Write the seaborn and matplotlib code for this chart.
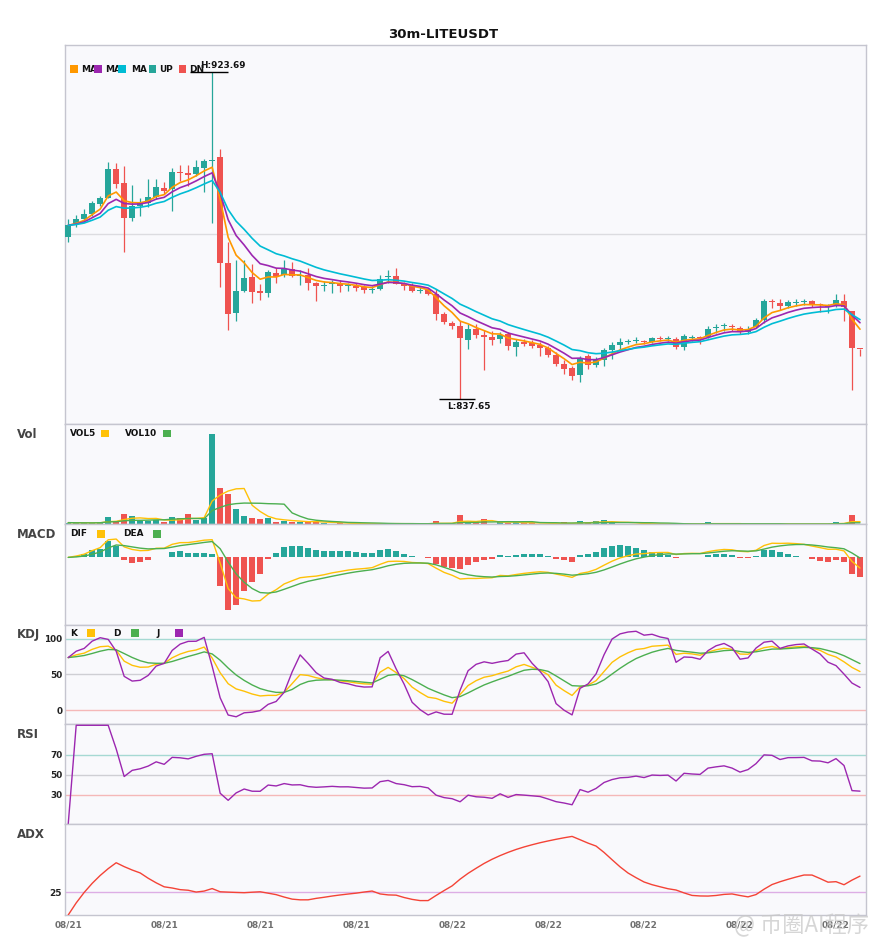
import numpy as np
import pandas as pd
import matplotlib
matplotlib.use("Agg")
import matplotlib.pyplot as plt
from matplotlib.patches import Rectangle
import seaborn as sns

# ---------------- data ----------------
title = "30m-LITEUSDT"

opens = [
    880.22, 883.75, 884.89, 886.20, 888.84, 890.60, 898.06, 894.45, 885.23, 888.31,
    889.29, 890.76, 893.05, 892.97, 897.30, 897.00, 896.82, 898.40, 900.24, 901.30,
    873.29, 860.20, 866.00, 869.69, 865.70, 865.47, 870.66, 870.21, 871.71, 870.00,
    870.21, 868.03, 867.31, 867.80, 867.84, 867.30, 867.42, 866.97, 866.30, 866.45,
    869.70, 869.87, 867.95, 867.24, 865.95, 866.18, 865.31, 859.86, 857.57, 856.70,
    853.19, 855.91, 854.41, 853.98, 853.35, 854.67, 851.25, 852.67, 852.30, 851.88,
    850.98, 849.06, 846.69, 845.63, 843.79, 848.80, 846.50, 847.74, 850.38, 851.69,
    852.55, 852.75, 852.93, 852.56, 853.50, 853.40, 853.46, 851.25, 853.70, 853.75,
    853.98, 856.36, 856.70, 856.50, 856.25, 855.30, 856.51, 858.46, 863.30, 862.76,
    862.15, 862.95, 863.05, 863.47, 862.35, 861.75, 862.23, 863.28, 860.65, 850.70,
]
highs = [
    884.89, 885.94, 887.52, 889.63, 890.95, 899.90, 899.64, 898.93, 893.84, 890.42,
    895.42, 895.42, 894.63, 898.40, 899.11, 899.11, 900.43, 900.69, 923.69, 903.33,
    878.91, 874.09, 874.09, 873.03, 867.76, 871.45, 871.98, 874.27, 873.56, 871.45,
    872.16, 868.37, 868.55, 869.00, 869.00, 868.21, 868.21, 867.68, 867.42, 870.13,
    871.45, 871.98, 868.29, 868.21, 867.05, 866.89, 866.45, 860.47, 858.09, 858.02,
    857.41, 857.41, 855.83, 855.46, 855.12, 855.12, 853.35, 853.35, 853.01, 852.48,
    851.61, 849.85, 847.74, 846.24, 848.98, 849.32, 848.61, 851.09, 852.48, 853.62,
    853.35, 853.88, 853.19, 853.88, 854.06, 854.06, 853.88, 854.78, 854.41, 854.14,
    856.70, 857.23, 857.67, 857.31, 856.78, 856.70, 858.88, 863.81, 863.89, 863.89,
    863.73, 863.89, 863.99, 863.55, 862.94, 862.68, 865.13, 865.13, 860.73, 850.82,
]
lows = [
    878.91, 882.78, 884.10, 885.68, 888.31, 890.42, 893.05, 876.27, 884.44, 885.68,
    888.13, 890.16, 891.47, 887.07, 894.90, 893.58, 896.21, 892.00, 883.91, 867.05,
    855.83, 858.09, 865.80, 862.84, 863.55, 864.42, 868.11, 869.69, 869.69, 867.58,
    866.37, 863.36, 866.10, 865.58, 865.84, 866.00, 865.92, 865.47, 865.47, 866.30,
    868.21, 867.76, 866.37, 865.84, 865.58, 864.87, 858.28, 857.23, 856.09, 837.65,
    850.64, 853.62, 845.11, 851.88, 852.30, 850.38, 848.80, 851.43, 851.09, 848.87,
    848.61, 846.16, 844.05, 842.66, 842.02, 845.55, 845.98, 846.35, 848.19, 850.56,
    851.96, 852.30, 852.14, 852.30, 852.83, 852.75, 850.64, 850.56, 852.93, 852.04,
    853.72, 854.93, 855.57, 855.38, 854.59, 854.78, 856.25, 857.57, 861.44, 860.91,
    861.62, 862.04, 862.31, 861.78, 860.57, 860.31, 861.78, 858.09, 839.84, 848.80,
]
closes = [
    883.31, 884.89, 886.20, 889.18, 890.50, 898.06, 894.11, 885.23, 888.31, 889.18,
    890.68, 893.32, 892.34, 897.27, 897.10, 896.70, 898.59, 900.17, 900.61, 873.37,
    860.04, 866.00, 869.42, 865.73, 865.60, 870.92, 869.69, 871.71, 870.05, 870.20,
    868.11, 867.31, 867.58, 867.90, 867.42, 867.45, 866.89, 866.37, 866.45, 869.26,
    869.85, 867.95, 867.24, 866.00, 866.10, 865.21, 860.04, 857.83, 856.78, 853.54,
    855.91, 854.41, 853.98, 853.01, 854.51, 851.51, 852.48, 852.04, 851.51, 850.98,
    849.06, 846.69, 845.37, 843.53, 848.45, 846.50, 847.93, 850.38, 851.69, 852.48,
    852.67, 853.19, 852.56, 853.54, 853.40, 853.50, 851.25, 854.06, 853.80, 853.65,
    856.09, 856.62, 857.04, 856.40, 855.20, 856.09, 858.46, 863.28, 863.15, 861.97,
    863.02, 863.05, 863.15, 862.31, 862.25, 861.85, 863.55, 861.89, 850.98, 850.60,
]
volumes = [
    500, 400, 400, 400, 600, 2100, 1000, 3000, 2400, 1100,
    1100, 1200, 700, 2100, 1800, 3000, 1200, 1900, 27000, 10800,
    9000, 4500, 2400, 1800, 1500, 1800, 700, 900, 700, 700,
    900, 800, 300, 200, 300, 200, 200, 200, 150, 200,
    150, 300, 150, 150, 100, 150, 900, 200, 200, 2800,
    600, 400, 1500, 200, 600, 500, 600, 400, 300, 200,
    200, 200, 600, 200, 900, 400, 900, 1200, 500, 200,
    200, 200, 100, 100, 100, 100, 100, 100, 100, 100,
    600, 100, 100, 100, 100, 100, 100, 100, 100, 100,
    100, 100, 100, 100, 100, 100, 600, 400, 2700, 200,
]
tick_pos = [0, 12, 24, 36, 48, 60, 72, 84, 96]
tick_labels = ["08/21", "08/21", "08/21", "08/21", "08/22", "08/22", "08/22", "08/22", "08/22"]

# ---------------- style ----------------
sns.set_theme(style="white")
plt.rcParams['font.family'] = ['DejaVu Sans', 'Noto Sans CJK SC']

C_UP, C_DN = '#26a69a', '#ef5350'
C_MA1, C_MA2, C_MA3 = '#ff9800', '#9c27b0', '#00bcd4'
C_Y, C_G, C_P = '#ffc107', '#4caf50', '#9c27b0'
C_ADX = '#f44336'
FACE = '#f9f9fc'
SPINE = '#c5c5cf'

df = pd.DataFrame(dict(open=opens, high=highs, low=lows, close=closes, volume=volumes))
df['idx'] = np.arange(len(df))
is_up = df['close'] >= df['open']
colors = np.where(is_up, C_UP, C_DN)

# indicators (exponential moving averages 5 / 8 / 13)
ma1 = df['close'].ewm(span=5, adjust=False).mean()
ma2 = df['close'].ewm(span=8, adjust=False).mean()
ma3 = df['close'].ewm(span=13, adjust=False).mean()
vol5 = df['volume'].rolling(5, min_periods=1).mean()
vol10 = df['volume'].rolling(10, min_periods=1).mean()

ema_f = df['close'].ewm(span=6, adjust=False).mean()
ema_s = df['close'].ewm(span=13, adjust=False).mean()
dif = ema_f - ema_s
dea = dif.ewm(span=5, adjust=False).mean()
hist = 2 * (dif - dea)

low9 = df['low'].rolling(9, min_periods=1).min()
high9 = df['high'].rolling(9, min_periods=1).max()
rsv = (df['close'] - low9) / (high9 - low9) * 100
k_line = rsv.ewm(com=2, adjust=False).mean()
d_line = k_line.ewm(com=2, adjust=False).mean()
j_line = 3 * k_line - 2 * d_line

chg = df['close'].diff()
gain = chg.clip(lower=0).ewm(alpha=1 / 14, adjust=True).mean()
loss = (-chg).clip(lower=0).ewm(alpha=1 / 14, adjust=True).mean()
rsi = (100 * gain / (gain + loss)).fillna(0)

prev_c = df['close'].shift()
tr = pd.concat([df['high'] - df['low'], (df['high'] - prev_c).abs(), (df['low'] - prev_c).abs()], axis=1).max(axis=1)
upm = df['high'].diff()
dnm = -df['low'].diff()
pdm = pd.Series(np.where((upm > dnm) & (upm > 0), upm, 0.0))
ndm = pd.Series(np.where((dnm > upm) & (dnm > 0), dnm, 0.0))
atr = tr.ewm(span=14, adjust=False).mean()
pdi = 100 * pdm.ewm(span=14, adjust=False).mean() / atr
ndi = 100 * ndm.ewm(span=14, adjust=False).mean() / atr
dx = (100 * (pdi - ndi).abs() / (pdi + ndi)).fillna(0)
adx = dx.ewm(span=14, adjust=False).mean()

# ---------------- layout ----------------
W, H = 885, 950
fig = plt.figure(figsize=(W / 100, H / 100), dpi=100)
fig.patch.set_facecolor('white')


def axes_px(top, bottom):
    return fig.add_axes([65 / W, 1 - bottom / H, 801 / W, (bottom - top) / H])


ax_p = axes_px(44.5, 424.3)
ax_v = axes_px(424.3, 524.3)
ax_m = axes_px(524.3, 624.5)
ax_k = axes_px(624.5, 724.3)
ax_r = axes_px(724.3, 824.3)
ax_a = axes_px(824.3, 915.0)
axes = [ax_p, ax_v, ax_m, ax_k, ax_r, ax_a]

for ax in axes:
    ax.set_facecolor(FACE)
    for s in ax.spines.values():
        s.set_color(SPINE)
        s.set_linewidth(1.0)
    ax.set_xlim(-0.4, 99.75)
    ax.set_xticks(tick_pos)
    ax.set_xticklabels([])
    ax.tick_params(axis='both', length=0, pad=2)

# ---- price ----
ax_p.vlines(df['idx'], df['low'], df['high'], colors=colors, lw=0.9, zorder=2)
body_lo = np.minimum(df['open'], df['close'])
body_h = np.maximum((df['close'] - df['open']).abs(), 0.28)
ax_p.bar(df['idx'], body_h, bottom=body_lo, width=0.75, color=colors, zorder=3, linewidth=0)
for series, col in [(ma1, C_MA1), (ma2, C_MA2), (ma3, C_MA3)]:
    sns.lineplot(x=df['idx'], y=series, ax=ax_p, color=col, lw=1.2, zorder=4)
lo, hi = df['low'].min(), df['high'].max()
rng = hi - lo
ax_p.set_ylim(lo - 0.079 * rng, hi + 0.085 * rng)
ax_p.set_yticks([881])
ax_p.set_yticklabels([])
ax_p.tick_params(axis='y', length=3, color='#bbbbbb')
ax_p.yaxis.grid(True, color='#dcdce0', lw=1)

ih = int(df['high'].idxmax())
il = int(df['low'].idxmin())
ax_p.hlines(hi, ih - 2.75, ih + 2, color='black', lw=1, zorder=5)
ax_p.annotate(f"H:{hi:.2f}", (ih - 1.5, hi), xytext=(0, 1.5), textcoords='offset points',
              ha='left', va='bottom', fontsize=6.4, fontweight='bold', color='#111111', zorder=6)
ax_p.hlines(lo, il - 2.6, il + 1.9, color='black', lw=1, zorder=5)
ax_p.annotate(f"L:{lo:.2f}", (il - 1.6, lo), xytext=(0, -2.5), textcoords='offset points',
              ha='left', va='top', fontsize=6.4, fontweight='bold', color='#111111', zorder=6)

# ---- volume ----
ax_v.bar(df['idx'], df['volume'], width=0.75, color=colors, linewidth=0, zorder=2)
sns.lineplot(x=df['idx'], y=vol5, ax=ax_v, color=C_Y, lw=1.0, zorder=3)
sns.lineplot(x=df['idx'], y=vol10, ax=ax_v, color=C_G, lw=1.0, zorder=3)
ax_v.set_ylim(0, df['volume'].max() / 0.9)
ax_v.set_yticks([])

# ---- MACD ----
hcol = np.where(hist >= 0, C_UP, C_DN)
ax_m.bar(df['idx'], hist, width=0.75, color=hcol, linewidth=0, zorder=2)
sns.lineplot(x=df['idx'], y=dif, ax=ax_m, color=C_Y, lw=1.0, zorder=3)
sns.lineplot(x=df['idx'], y=dea, ax=ax_m, color=C_G, lw=1.0, zorder=3)
mlo = min(hist.min(), dif.min(), dea.min())
ax_m.set_ylim(mlo * 1.264, -mlo * 0.623)
ax_m.set_yticks([])

# ---- KDJ ----
ax_k.axhline(100, color='#a6d9d3', lw=1, zorder=1)
ax_k.axhline(50, color='#cfcfd4', lw=1, zorder=1)
ax_k.axhline(0, color='#f5b8b8', lw=1, zorder=1)
sns.lineplot(x=df['idx'], y=k_line, ax=ax_k, color=C_Y, lw=1.0, zorder=3)
sns.lineplot(x=df['idx'], y=d_line, ax=ax_k, color=C_G, lw=1.0, zorder=3)
sns.lineplot(x=df['idx'], y=j_line, ax=ax_k, color=C_P, lw=1.0, zorder=3)
ax_k.set_ylim(-20, 120)
ax_k.set_yticks([0, 50, 100])

# ---- RSI ----
ax_r.axhline(70, color='#a6d9d3', lw=1, zorder=1)
ax_r.axhline(50, color='#cfcfd4', lw=1, zorder=1)
ax_r.axhline(30, color='#f5b8b8', lw=1, zorder=1)
sns.lineplot(x=df['idx'], y=rsi, ax=ax_r, color=C_P, lw=1.0, zorder=3)
ax_r.set_ylim(0, 101)
ax_r.set_yticks([30, 50, 70])

# ---- ADX ----
ax_a.axhline(25, color='#ddaee5', lw=1, zorder=1)
sns.lineplot(x=df['idx'], y=adx, ax=ax_a, color=C_ADX, lw=1.0, zorder=3)
ax_a.set_ylim(0, 100)
ax_a.set_yticks([25])
ax_a.set_xticklabels(tick_labels)

for ax in [ax_k, ax_r, ax_a]:
    for t in ax.get_yticklabels():
        t.set_fontsize(6.4)
        t.set_fontweight('bold')
        t.set_color('#222222')
for t in ax_a.get_xticklabels():
    t.set_fontsize(6.4)
    t.set_fontweight('bold')
    t.set_color('#707070')
ax_a.tick_params(axis='x', pad=4)

for ax in axes:
    ax.set_xlabel('')
    ax.set_ylabel('')
    if ax.get_legend() is not None:
        ax.get_legend().remove()

# ---------------- texts / legends ----------------
def fx(x):
    return x / W


def fy(y):
    return 1 - y / H


def square(x0, yc, col, s=7.6):
    fig.add_artist(Rectangle((fx(x0), fy(yc + s / 2)), s / W, s / H,
                             transform=fig.transFigure, color=col, lw=0, zorder=10))


def label(x0, yc, txt, size=6.4, color='#111111'):
    fig.text(fx(x0), fy(yc), txt, ha='left', va='center', fontsize=size,
             fontweight='bold', color=color, zorder=9)


fig.text(fx(443), fy(34), title, ha='center', va='center', fontsize=9.5, fontweight='bold', color='#111111')

# price legend
for x_sq, x_tx, col, txt in [(70, 81, C_MA1, 'MA'), (94.3, 105, C_MA2, 'MA'), (118, 131.3, C_MA3, 'MA'),
                             (148.7, 159, C_UP, 'UP'), (178.7, 189.3, C_DN, 'DN')]:
    label(x_tx, 69, txt)
    square(x_sq, 69, col)

# vol legend
label(70, 433.5, 'VOL5'); square(101, 433.5, C_Y)
label(125, 433.5, 'VOL10'); square(163, 433.5, C_G)
# macd legend
label(70, 534, 'DIF'); square(97, 534, C_Y)
label(123.3, 534, 'DEA'); square(153, 534, C_G)
# kdj legend
label(70, 633, 'K'); square(87, 633, C_Y)
label(113.3, 633, 'D'); square(131, 633, C_G)
label(156.7, 633, 'J'); square(175.3, 633, C_P)

# panel names
for txt, yc in [('Vol', 434.7), ('MACD', 534.3), ('KDJ', 634.7), ('RSI', 734.7), ('ADX', 834.7)]:
    fig.text(fx(17.3), fy(yc), txt, ha='left', va='center', fontsize=8.5, fontweight='bold', color='#444444')

# watermark
fig.text(fx(734), fy(926), '@ 币圈AI程序', ha='left', va='center', fontsize=16,
         family=['Noto Sans CJK SC', 'DejaVu Sans'], color='#c9c9c9', alpha=0.75, zorder=20)

fig.savefig('out.png', dpi=100, facecolor='white')
